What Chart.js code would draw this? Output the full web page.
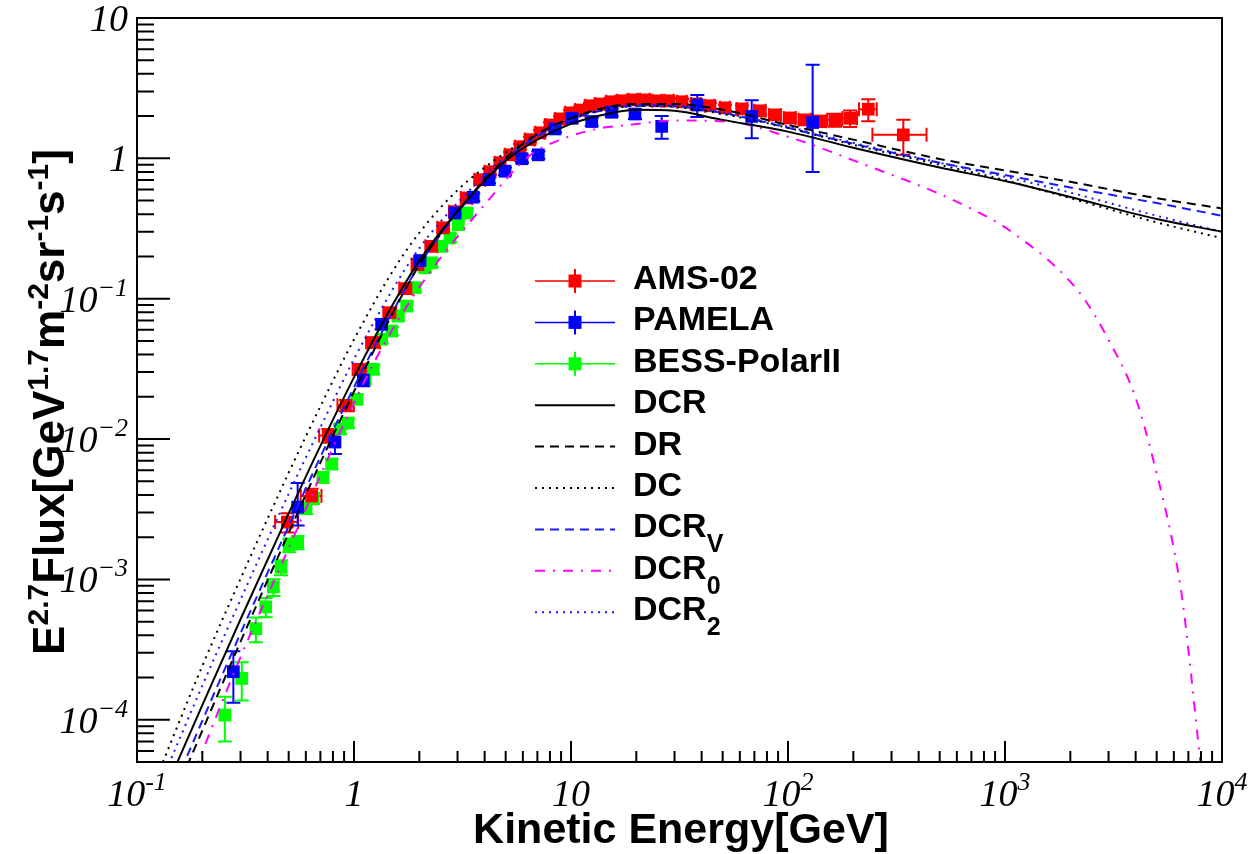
<!DOCTYPE html>
<html>
<head>
<meta charset="utf-8">
<script src="https://cdn.jsdelivr.net/npm/chart.js@4.4.1/dist/chart.umd.min.js"></script>
<style>
  html, body { margin: 0; padding: 0; background: #fff; }
  canvas { display: block; }
</style>
</head>
<body>
<canvas id="grafico" width="1253" height="854"></canvas>
<script>
// AMS-02 antiprotons
const amsE = [0.493, 0.638, 0.761, 0.919, 1.066, 1.227, 1.465, 1.736, 1.972, 2.281, 2.579, 2.92, 3.306, 3.807, 4.234, 4.709, 5.235, 5.821, 6.473, 7.197, 8.002, 8.899, 9.894, 11.0, 12.23, 13.6, 15.29, 17.18, 19.31, 21.93, 24.91, 28.29, 32.47, 37.67, 43.71, 51.26, 61.38, 74.3, 87.14, 102.1, 119.8, 140.4, 164.7, 193.1, 234.4, 339.9];
const amsFlux = [2.56e-3, 3.93e-3, 1.06e-2, 1.74e-2, 3.14e-2, 4.87e-2, 7.95e-2, 0.118, 0.175, 0.236, 0.320, 0.417, 0.522, 0.705, 0.803, 0.93, 1.06, 1.21, 1.36, 1.52, 1.73, 1.91, 2.11, 2.21, 2.37, 2.44, 2.53, 2.57, 2.61, 2.61, 2.57, 2.57, 2.53, 2.44, 2.37, 2.29, 2.25, 2.18, 2.04, 1.94, 1.88, 1.84, 1.88, 1.93, 2.24, 1.47];
const amsFluxErr = [4e-4, 5e-4, 1.2e-3, 1.6e-3, 2.5e-3, 3.5e-3, 5e-3, 7e-3, 0.01, 0.013, 0.017, 0.021, 0.026, 0.034, 0.038, 0.044, 0.05, 0.056, 0.063, 0.07, 0.08, 0.088, 0.097, 0.1, 0.11, 0.11, 0.115, 0.117, 0.12, 0.12, 0.12, 0.12, 0.12, 0.12, 0.12, 0.12, 0.13, 0.13, 0.13, 0.14, 0.15, 0.17, 0.2, 0.26, 0.4, 0.41];
const amsEErr = [0.06, 0.07, 0.07, 0.08, 0.08, 0.09, 0.1, 0.12, 0.13, 0.15, 0.16, 0.18, 0.2, 0.22, 0.24, 0.26, 0.28, 0.3, 0.33, 0.36, 0.4, 0.44, 0.5, 0.55, 0.6, 0.68, 0.75, 0.85, 0.95, 1.1, 1.2, 1.4, 1.6, 1.9, 2.2, 2.6, 3.5, 4.5, 5.5, 6.5, 8, 10, 13, 15, 22, 95];

// PAMELA
const pamelaE = [0.278, 0.550, 0.817, 1.104, 1.341, 2.014, 2.920, 3.546, 4.190, 4.965, 5.946, 7.069, 8.44, 10.11, 12.46, 15.40, 19.72, 26.18, 38.19, 68.04, 129.9];
const pamelaFlux = [2.20e-4, 3.27e-3, 9.52e-3, 2.63e-2, 6.57e-2, 0.187, 0.408, 0.529, 0.705, 0.810, 0.994, 1.06, 1.62, 1.93, 1.83, 2.13, 2.07, 1.69, 2.40, 1.99, 1.80];
const pamelaErrUp = [8.8e-5, 1.6e-3, 1.7e-3, 2.5e-3, 5e-3, 0.013, 0.025, 0.032, 0.042, 0.05, 0.06, 0.065, 0.09, 0.11, 0.12, 0.14, 0.16, 0.31, 0.43, 0.6, 2.85];
const pamelaErrDown = [8.8e-5, 0.85e-3, 1.7e-3, 2.5e-3, 5e-3, 0.013, 0.025, 0.032, 0.042, 0.05, 0.06, 0.065, 0.09, 0.11, 0.12, 0.14, 0.16, 0.31, 0.43, 0.6, 1.0];

// BESS-PolarII
const bessE = [0.254, 0.304, 0.353, 0.392, 0.425, 0.461, 0.503, 0.550, 0.601, 0.649, 0.718, 0.789, 0.862, 0.938, 1.029, 1.124, 1.227, 1.341, 1.492, 1.600, 1.749, 1.910, 2.124, 2.281, 2.536, 2.770, 3.025, 3.306];
const bessFlux = [1.08e-4, 1.97e-4, 4.46e-4, 6.37e-4, 8.83e-4, 1.22e-3, 1.76e-3, 1.84e-3, 3.22e-3, 3.79e-3, 5.34e-3, 6.65e-3, 1.18e-2, 1.30e-2, 1.92e-2, 2.67e-2, 3.14e-2, 5.14e-2, 5.88e-2, 7.52e-2, 8.86e-2, 0.120, 0.166, 0.180, 0.236, 0.271, 0.337, 0.408];
const bessFluxErr = [3.8e-5, 6e-5, 9e-5, 1e-4, 1.2e-4, 1.5e-4, 2e-4, 2e-4, 3e-4, 3.4e-4, 4.5e-4, 5.5e-4, 9e-4, 1e-3, 1.4e-3, 1.9e-3, 2.2e-3, 3.5e-3, 4e-3, 5e-3, 6e-3, 8e-3, 1.1e-2, 1.2e-2, 1.6e-2, 1.9e-2, 2.4e-2, 3e-2];

// model curves
const dcrE = [0.15, 0.2, 0.3, 0.5, 0.7, 1, 1.5, 2, 3, 5, 7, 10, 15, 20, 30, 50, 100, 200, 500, 1000, 2000, 5000, 10000];
const dcrFlux = [4.6e-5, 1.27e-4, 5.2e-4, 2.95e-3, 8.95e-3, 2.75e-2, 8.93e-2, 0.186, 0.42, 0.96, 1.36, 1.76, 2.09, 2.22, 2.18, 1.88, 1.55, 1.19, 0.86, 0.69, 0.53, 0.37, 0.30];

const drE = [0.17, 0.2, 0.3, 0.5, 0.7, 1, 1.5, 2, 3, 5, 7, 10, 15, 20, 30, 50, 100, 200, 500, 1000, 2000, 5000, 10000];
const drFlux = [4.67e-5, 8.38e-5, 3.6e-4, 2.14e-3, 6.79e-3, 2.18e-2, 7.78e-2, 0.174, 0.42, 1.0, 1.49, 1.93, 2.33, 2.44, 2.44, 2.22, 1.73, 1.36, 0.99, 0.82, 0.68, 0.52, 0.44];

const dcE = [0.128, 0.2, 0.3, 0.5, 0.7, 1, 1.5, 2, 3, 5, 7, 10, 15, 20, 30, 50, 100, 200, 500, 1000, 2000, 5000, 10000];
const dcFlux = [4.5e-5, 2.42e-4, 1.01e-3, 5.75e-3, 1.71e-2, 5.12e-2, 0.155, 0.295, 0.593, 1.10, 1.49, 1.93, 2.25, 2.37, 2.33, 2.07, 1.65, 1.25, 0.90, 0.70, 0.52, 0.35, 0.27];

const dcrvE = [0.16, 0.2, 0.3, 0.5, 0.7, 1, 1.5, 2, 3, 5, 7, 10, 15, 20, 30, 50, 100, 200, 500, 1000, 2000, 5000, 10000];
const dcrvFlux = [4.4e-5, 9.84e-5, 4.13e-4, 2.40e-3, 7.45e-3, 2.34e-2, 7.96e-2, 0.174, 0.41, 0.98, 1.43, 1.89, 2.25, 2.37, 2.35, 2.11, 1.65, 1.27, 0.93, 0.76, 0.62, 0.48, 0.39];

const dcr0E = [0.185, 0.298, 0.5, 0.862, 1.36, 2.24, 3.94, 6.47, 9.2, 14, 18, 30.6, 52, 105, 214, 618, 1090, 2210, 3020, 3970, 4900, 5960, 6590, 7320, 7850, 8000];
const dcr0Flux = [4.4e-5, 2.73e-4, 1.67e-3, 1.12e-2, 4.61e-2, 0.155, 0.455, 1.05, 1.38, 1.65, 1.72, 1.86, 1.83, 1.39, 0.93, 0.48, 0.294, 0.110, 0.050, 0.0203, 6.46e-3, 1.74e-3, 6.91e-4, 1.67e-4, 5.93e-5, 4.5e-5];

const dcr2E = [0.14, 0.2, 0.3, 0.5, 0.7, 1, 1.5, 2, 3, 5, 7, 10, 15, 20, 30, 50, 100, 200, 500, 1000, 2000, 5000, 10000];
const dcr2Flux = [4.8e-5, 1.75e-4, 7.18e-4, 4.07e-3, 1.21e-2, 3.71e-2, 0.115, 0.229, 0.482, 1.03, 1.46, 1.89, 2.29, 2.40, 2.37, 2.11, 1.68, 1.29, 0.93, 0.74, 0.57, 0.39, 0.30];

// axes
const xMin = 0.1, xMax = 10000, yMin = 5e-5, yMax = 10;
const xTicks = [0.1, 1, 10, 100, 1000, 10000];
const xTickLabels = [['10', '-1'], ['1', ''], ['10', ''], ['10', '2'], ['10', '3'], ['10', '4']];
const yTicks = [10, 1, 0.1, 0.01, 0.001, 0.0001];
const yTickLabels = [['10', ''], ['1', ''], ['10', '\u22121'], ['10', '\u22122'], ['10', '\u22123'], ['10', '\u22124']];

const SANS = '"Liberation Sans", Arial, Helvetica, sans-serif';
const SERIF = '"Liberation Serif", "Times New Roman", serif';

const toPoints = (xs, ys) => xs.map((x, i) => ({ x: x, y: ys[i] }));

function drawRich(ctx, parts, x, y, mainFont, smallFont, rise, drop, align) {
  let w = 0;
  parts.forEach(p => {
    ctx.font = p.s ? smallFont : mainFont;
    p.w = ctx.measureText(p.t).width;
    w += p.w;
  });
  let cx = align === 'center' ? x - w / 2 : (align === 'right' ? x - w : x);
  ctx.textAlign = 'left';
  parts.forEach(p => {
    ctx.font = p.s ? smallFont : mainFont;
    const dy = p.s === 'sup' ? -rise : (p.s === 'sub' ? drop : 0);
    ctx.fillText(p.t, cx, y + dy);
    cx += p.w;
  });
}

function markerSet(label, xs, ys, color, err, order) {
  return {
    label: label,
    legendParts: [{ t: label }],
    isData: true,
    data: toPoints(xs, ys),
    err: err,
    pointStyle: 'rect',
    pointRadius: 9,
    pointHoverRadius: 9,
    pointBorderWidth: 0,
    backgroundColor: color,
    borderColor: color,
    showLine: false,
    order: order
  };
}

function curveSet(parts, xs, ys, color, dash) {
  return {
    label: parts.map(p => p.t).join(''),
    legendParts: parts,
    data: toPoints(xs, ys),
    showLine: true,
    borderColor: color,
    backgroundColor: color,
    borderWidth: 2,
    borderDash: dash,
    pointRadius: 0,
    pointHoverRadius: 0,
    fill: false,
    cubicInterpolationMode: 'monotone',
    order: 0
  };
}

// white background
const background = {
  id: 'background',
  beforeDraw(chart) {
    const ctx = chart.ctx;
    ctx.save();
    ctx.fillStyle = '#fff';
    ctx.fillRect(0, 0, chart.width, chart.height);
    ctx.restore();
  }
};

// error bars with end caps, under the markers
const errorBars = {
  id: 'errorBars',
  beforeDatasetsDraw(chart) {
    const ctx = chart.ctx, xs = chart.scales.x, ys = chart.scales.y;
    const cap = 7;
    chart.data.datasets.forEach(ds => {
      if (!ds.err) return;
      ctx.save();
      ctx.strokeStyle = ds.borderColor;
      ctx.lineWidth = 2;
      ds.data.forEach((p, i) => {
        const px = xs.getPixelForValue(p.x);
        const py = ys.getPixelForValue(p.y);
        const hi = ys.getPixelForValue(p.y + ds.err.up[i]);
        const lo = ys.getPixelForValue(Math.max(p.y - ds.err.down[i], 1e-9));
        ctx.beginPath();
        ctx.moveTo(px, lo); ctx.lineTo(px, hi);
        ctx.moveTo(px - cap, hi); ctx.lineTo(px + cap, hi);
        ctx.moveTo(px - cap, lo); ctx.lineTo(px + cap, lo);
        if (ds.err.x) {
          const l = xs.getPixelForValue(p.x - ds.err.x[i]);
          const r = xs.getPixelForValue(p.x + ds.err.x[i]);
          ctx.moveTo(l, py); ctx.lineTo(r, py);
          ctx.moveTo(l, py - cap); ctx.lineTo(l, py + cap);
          ctx.moveTo(r, py - cap); ctx.lineTo(r, py + cap);
        }
        ctx.stroke();
      });
      ctx.restore();
    });
  }
};

// ROOT-like frame, inward ticks, labels, titles and legend
const frame = {
  id: 'frame',
  afterDraw(chart) {
    const ctx = chart.ctx, xs = chart.scales.x, ys = chart.scales.y;
    const a = chart.chartArea;
    ctx.save();
    ctx.strokeStyle = '#000';
    ctx.fillStyle = '#000';
    ctx.lineWidth = 2;
    ctx.strokeRect(a.left, a.top, a.right - a.left, a.bottom - a.top);

    // x ticks
    ctx.beginPath();
    for (let d = -1; d <= 4; d++) {
      for (let k = 1; k <= 9; k++) {
        const v = k * Math.pow(10, d);
        if (v < xMin || v > xMax) continue;
        const px = xs.getPixelForValue(v);
        const len = k === 1 ? 21 : 11;
        ctx.moveTo(px, a.bottom); ctx.lineTo(px, a.bottom - len);
      }
    }
    // y ticks
    for (let d = -5; d <= 1; d++) {
      for (let k = 1; k <= 9; k++) {
        const v = k * Math.pow(10, d);
        if (v < yMin * 0.999 || v > yMax) continue;
        const py = ys.getPixelForValue(v);
        const len = k === 1 ? 33 : 17;
        ctx.moveTo(a.left, py); ctx.lineTo(a.left + len, py);
      }
    }
    ctx.stroke();

    // tick labels
    const tickMain = 'italic 38px ' + SERIF;
    const tickSup = 'italic 26px ' + SERIF;
    ctx.textBaseline = 'alphabetic';
    xTicks.forEach((v, i) => {
      const lab = xTickLabels[i];
      const parts = [{ t: lab[0] }];
      if (lab[1]) parts.push({ t: lab[1], s: 'sup' });
      drawRich(ctx, parts, xs.getPixelForValue(v), 806, tickMain, tickSup, 16, 0, 'center');
    });
    yTicks.forEach((v, i) => {
      const lab = yTickLabels[i];
      const parts = [{ t: lab[0] }];
      if (lab[1]) parts.push({ t: lab[1], s: 'sup' });
      drawRich(ctx, parts, 128, ys.getPixelForValue(v) + 13, tickMain, tickSup, 16, 0, 'right');
    });

    // axis titles
    drawRich(ctx, [{ t: 'Kinetic Energy[GeV]' }], 681, 843, 'bold 43px ' + SANS, 'bold 30px ' + SANS, 0, 0, 'center');
    ctx.save();
    ctx.translate(64, 402);
    ctx.rotate(-Math.PI / 2);
    drawRich(ctx, [
      { t: 'E' }, { t: '2.7', s: 'sup' }, { t: 'Flux[GeV' }, { t: '1.7', s: 'sup' },
      { t: 'm' }, { t: '-2', s: 'sup' }, { t: 'sr' }, { t: '-1', s: 'sup' },
      { t: 's' }, { t: '-1', s: 'sup' }, { t: ']' }
    ], 0, 0, 'bold 44px ' + SANS, 'bold 30px ' + SANS, 16, 0, 'center');
    ctx.restore();

    // legend
    chart.data.datasets.forEach((ds, i) => {
      const cy = 281 + i * 41.4;
      ctx.save();
      ctx.strokeStyle = ds.borderColor;
      ctx.fillStyle = ds.borderColor;
      ctx.lineWidth = ds.isData ? 1.5 : 2;
      ctx.setLineDash(ds.borderDash || []);
      ctx.beginPath();
      ctx.moveTo(535, cy); ctx.lineTo(615, cy);
      ctx.stroke();
      ctx.setLineDash([]);
      if (ds.isData) {
        ctx.lineWidth = 2;
        ctx.beginPath();
        ctx.moveTo(575, cy - 12); ctx.lineTo(575, cy + 12);
        ctx.stroke();
        ctx.fillRect(568.5, cy - 6.5, 13, 13);
      }
      ctx.restore();
      ctx.fillStyle = '#000';
      drawRich(ctx, ds.legendParts, 633, cy + 8, 'bold 34px ' + SANS, 'bold 25px ' + SANS, 14, 15, 'left');
    });
    ctx.restore();
  }
};

const ctx = document.getElementById('grafico').getContext('2d');
new Chart(ctx, {
  type: 'scatter',
  data: {
    datasets: [
      markerSet('AMS-02', amsE, amsFlux, '#ff0000', { up: amsFluxErr, down: amsFluxErr, x: amsEErr }, 2),
      markerSet('PAMELA', pamelaE, pamelaFlux, '#0000ff', { up: pamelaErrUp, down: pamelaErrDown }, 1),
      markerSet('BESS-PolarII', bessE, bessFlux, '#00ff00', { up: bessFluxErr, down: bessFluxErr }, 3),
      curveSet([{ t: 'DCR' }], dcrE, dcrFlux, '#000000', []),
      curveSet([{ t: 'DR' }], drE, drFlux, '#000000', [9, 6]),
      curveSet([{ t: 'DC' }], dcE, dcFlux, '#000000', [2, 5]),
      curveSet([{ t: 'DCR' }, { t: 'V', s: 'sub' }], dcrvE, dcrvFlux, '#1a1aff', [9, 6]),
      curveSet([{ t: 'DCR' }, { t: '0', s: 'sub' }], dcr0E, dcr0Flux, '#ff00ff', [10, 8, 2, 8]),
      curveSet([{ t: 'DCR' }, { t: '2', s: 'sub' }], dcr2E, dcr2Flux, '#1a1aff', [2, 5])
    ]
  },
  options: {
    responsive: false,
    devicePixelRatio: 1,
    animation: false,
    events: [],
    layout: { padding: { left: 137, right: 31, top: 18, bottom: 92 } },
    plugins: {
      legend: { display: false },
      tooltip: { enabled: false },
      title: { display: false }
    },
    scales: {
      x: { type: 'logarithmic', min: xMin, max: xMax, display: false },
      y: { type: 'logarithmic', min: yMin, max: yMax, display: false }
    }
  },
  plugins: [background, errorBars, frame]
});
</script>
</body>
</html>
